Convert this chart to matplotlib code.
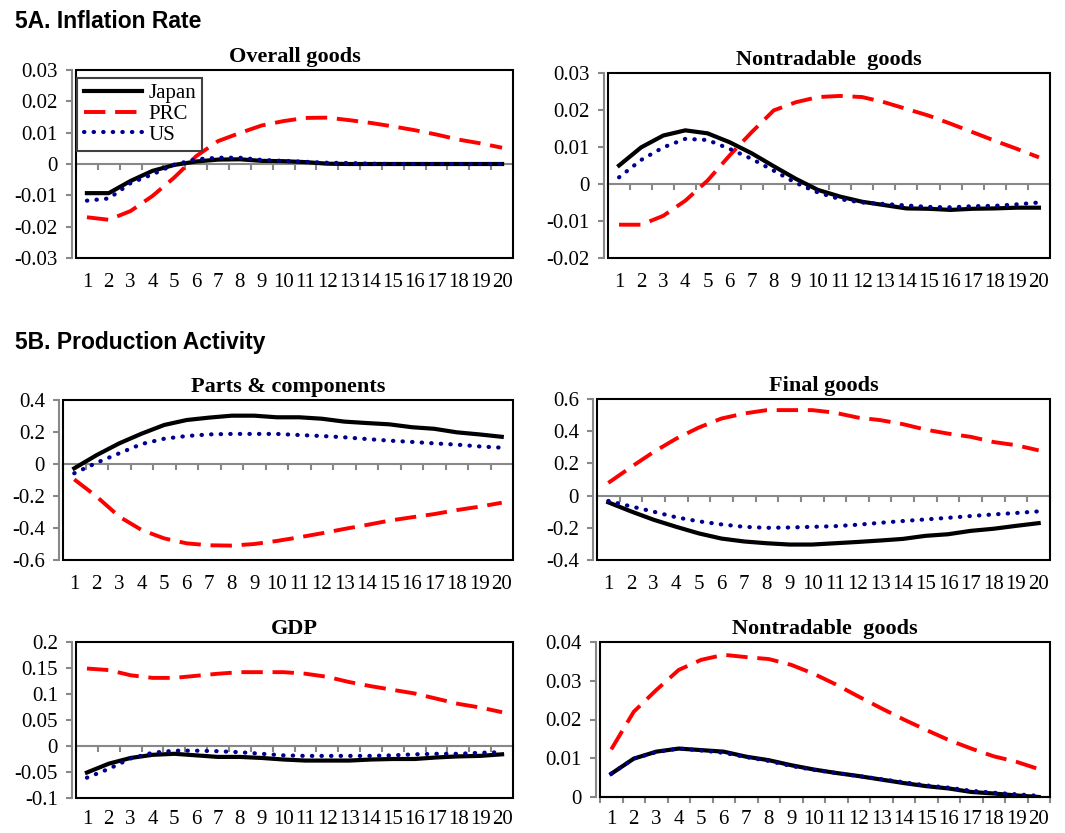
import matplotlib
matplotlib.use("Agg")
import matplotlib.pyplot as plt
from matplotlib.patches import Rectangle
from matplotlib.ticker import FuncFormatter, MultipleLocator

periods = list(range(1, 21))

# 5A. Inflation rate
overall_japan = [-0.0093, -0.0093, -0.0054, -0.0022, -0.0003, 0.0008, 0.0014, 0.0015, 0.0010, 0.0009,
                 0.0006, 0.0001, 0, 0, 0, 0, 0, 0, 0, 0]
overall_prc = [-0.0170, -0.0178, -0.0150, -0.0102, -0.0043, 0.0025, 0.0073, 0.0099, 0.0123, 0.0137,
               0.0147, 0.0148, 0.0140, 0.0131, 0.0120, 0.0108, 0.0094, 0.0078, 0.0066, 0.0052]
overall_us = [-0.0117, -0.0110, -0.0061, -0.0033, -0.0002, 0.0015, 0.0020, 0.0020, 0.0013, 0.0010,
              0.0007, 0.0004, 0.0003, 0.0001, 0, 0, 0, 0, 0, 0]

ntinf_japan = [0.0050, 0.0099, 0.0131, 0.0145, 0.0137, 0.0113, 0.0083, 0.0048, 0.0014, -0.0016,
               -0.0034, -0.0048, -0.0057, -0.0066, -0.0067, -0.0070, -0.0067, -0.0066, -0.0064, -0.0064]
ntinf_prc = [-0.0110, -0.0110, -0.0086, -0.0045, 0.0009, 0.0077, 0.0140, 0.0199, 0.0221, 0.0235,
             0.0238, 0.0235, 0.0221, 0.0203, 0.0185, 0.0163, 0.0140, 0.0117, 0.0095, 0.0072]
ntinf_us = [0.0018, 0.0065, 0.0099, 0.0122, 0.0119, 0.0095, 0.0068, 0.0036, 0.0003, -0.0023,
            -0.0041, -0.0050, -0.0054, -0.0058, -0.0062, -0.0063, -0.0060, -0.0059, -0.0055, -0.0050]

# 5B. Production activity
parts_japan = [-0.027, 0.056, 0.129, 0.190, 0.244, 0.275, 0.290, 0.302, 0.302, 0.292,
               0.292, 0.283, 0.265, 0.256, 0.248, 0.230, 0.220, 0.198, 0.185, 0.170]
parts_prc = [-0.096, -0.204, -0.329, -0.413, -0.465, -0.496, -0.508, -0.510, -0.500, -0.481,
             -0.458, -0.433, -0.406, -0.381, -0.354, -0.333, -0.313, -0.288, -0.267, -0.242]
parts_us = [-0.058, 0.008, 0.067, 0.125, 0.158, 0.175, 0.185, 0.188, 0.188, 0.188,
            0.181, 0.175, 0.167, 0.156, 0.146, 0.138, 0.129, 0.121, 0.110, 0.102]

final_japan = [-0.042, -0.098, -0.150, -0.194, -0.235, -0.267, -0.285, -0.296, -0.304, -0.304,
               -0.296, -0.288, -0.279, -0.269, -0.250, -0.240, -0.219, -0.206, -0.188, -0.171]
final_prc = [0.079, 0.177, 0.271, 0.354, 0.423, 0.479, 0.510, 0.531, 0.531, 0.531,
             0.515, 0.485, 0.469, 0.444, 0.410, 0.385, 0.365, 0.333, 0.313, 0.281]
final_us = [-0.033, -0.067, -0.100, -0.135, -0.160, -0.179, -0.194, -0.200, -0.198, -0.194,
            -0.190, -0.181, -0.169, -0.158, -0.148, -0.138, -0.127, -0.117, -0.108, -0.098]

gdp_japan = [-0.051, -0.034, -0.023, -0.017, -0.015, -0.018, -0.021, -0.021, -0.023, -0.026,
             -0.028, -0.028, -0.028, -0.026, -0.025, -0.025, -0.022, -0.020, -0.019, -0.016]
gdp_prc = [0.149, 0.146, 0.136, 0.131, 0.131, 0.135, 0.139, 0.142, 0.142, 0.142,
           0.139, 0.133, 0.123, 0.115, 0.108, 0.101, 0.091, 0.081, 0.074, 0.065]
gdp_us = [-0.061, -0.044, -0.024, -0.013, -0.009, -0.009, -0.010, -0.012, -0.015, -0.018,
          -0.019, -0.019, -0.019, -0.019, -0.018, -0.016, -0.015, -0.015, -0.013, -0.012]

ntprod_japan = [0.0060, 0.0099, 0.0117, 0.0125, 0.0121, 0.0117, 0.0104, 0.0095, 0.0082, 0.0071,
                0.0062, 0.0054, 0.0045, 0.0036, 0.0028, 0.0022, 0.0013, 0.0009, 0.0004, 0.0000]
ntprod_prc = [0.0123, 0.0220, 0.0276, 0.0328, 0.0354, 0.0367, 0.0361, 0.0356, 0.0341, 0.0318,
              0.0290, 0.0259, 0.0229, 0.0200, 0.0173, 0.0147, 0.0125, 0.0105, 0.0091, 0.0072]
ntprod_us = [0.0060, 0.0099, 0.0116, 0.0125, 0.0120, 0.0114, 0.0103, 0.0093, 0.0080, 0.0070,
             0.0062, 0.0054, 0.0046, 0.0038, 0.0030, 0.0024, 0.0016, 0.0011, 0.0007, 0.0003]

SERIF = "Liberation Serif"
SANS = "Liberation Sans"
GRAY = "#888888"
plt.rcParams["font.family"] = [SERIF, "DejaVu Serif"]

fig = plt.figure(figsize=(10.65, 8.33), dpi=100)


def fmt(v, pos):
    if abs(v) < 1e-9:
        return "0"
    return f"{round(v, 4):g}"


def draw_panel(rect, title, japan, prc, us, ylo, yhi, ystep, legend=False, xpad=11):
    ax = fig.add_axes(rect)
    ax.plot(periods, japan, color="black", lw=3, label="Japan", zorder=3)
    ax.plot(periods, prc, color="#ff0000", lw=2.8, linestyle=(0, (5.5, 2.5)), label="PRC", zorder=3)
    ax.plot(periods, us, color="#000090", lw=3, linestyle=(0, (0.1, 2.2)),
            dash_capstyle="round", label="US", zorder=4)
    ax.set_xlim(0.5, 20.5)
    ax.set_ylim(ylo, yhi)
    ax.set_xticks(periods)
    ax.tick_params(axis="x", length=0, pad=xpad, labelsize=15)
    ax.yaxis.set_major_locator(MultipleLocator(ystep))
    ax.yaxis.set_major_formatter(FuncFormatter(fmt))
    ax.tick_params(axis="y", direction="out", length=4, width=1.5, color=GRAY, pad=6, labelsize=15)
    for s in ["top", "right", "bottom"]:
        ax.spines[s].set_visible(False)
    ax.spines["left"].set_color(GRAY)
    ax.spines["left"].set_linewidth(1.5)
    ax.spines["left"].set_position(("outward", 3))
    ax.add_patch(Rectangle((0, 0), 1, 1, transform=ax.transAxes, fill=False,
                           ec="black", lw=1.5, clip_on=False, zorder=5))

    # category axis crossing at zero, ticks between categories
    sec = ax.secondary_xaxis((0 - ylo) / (yhi - ylo))
    sec.set_alignment("bottom")
    sec.set_xticks([i + 0.5 for i in range(21)])
    sec.tick_params(direction="out", length=4.5, width=1.5, color=GRAY,
                    labelbottom=False, labeltop=False)
    sec.spines["bottom"].set_color(GRAY)
    sec.spines["bottom"].set_linewidth(1.5)

    ax.set_title(title, fontsize=16, fontweight="bold", family=SERIF, pad=6)
    if legend:
        leg = ax.legend(loc="upper left", bbox_to_anchor=(0.003, 0.96), borderaxespad=0,
                        fancybox=False, framealpha=1, edgecolor="#404040",
                        prop={"family": SERIF, "size": 15}, handlelength=2.8,
                        handletextpad=0.3, labelspacing=0.05, borderpad=0.3)
        leg.get_frame().set_linewidth(1.5)
    return ax


W, H = 1065, 833


def rect(left, top, right, bottom):
    return [left / W, 1 - bottom / H, (right - left) / W, (bottom - top) / H]


draw_panel(rect(76, 70, 513, 258), "Overall goods", overall_japan, overall_prc, overall_us,
           -0.03, 0.03, 0.01, legend=True)
draw_panel(rect(608, 73, 1050, 258), "Nontradable  goods", ntinf_japan, ntinf_prc, ntinf_us,
           -0.02, 0.03, 0.01)
draw_panel(rect(63, 400, 513, 560), "Parts & components", parts_japan, parts_prc, parts_us,
           -0.6, 0.4, 0.2)
draw_panel(rect(597, 399, 1050, 560), "Final goods", final_japan, final_prc, final_us,
           -0.4, 0.6, 0.2)
draw_panel(rect(76, 642, 513, 798), "GDP", gdp_japan, gdp_prc, gdp_us,
           -0.1, 0.2, 0.05, xpad=9)
draw_panel(rect(600, 642, 1050, 797), "Nontradable  goods", ntprod_japan, ntprod_prc, ntprod_us,
           0, 0.04, 0.01, xpad=9)

fig.text(15 / W, 1 - 22 / H, "5A. Inflation Rate", fontsize=16.5, fontweight="bold",
         family=SANS, va="center", ha="left")
fig.text(15 / W, 1 - 342 / H, "5B. Production Activity", fontsize=16.5, fontweight="bold",
         family=SANS, va="center", ha="left")

fig.savefig("out.png", dpi=100)
